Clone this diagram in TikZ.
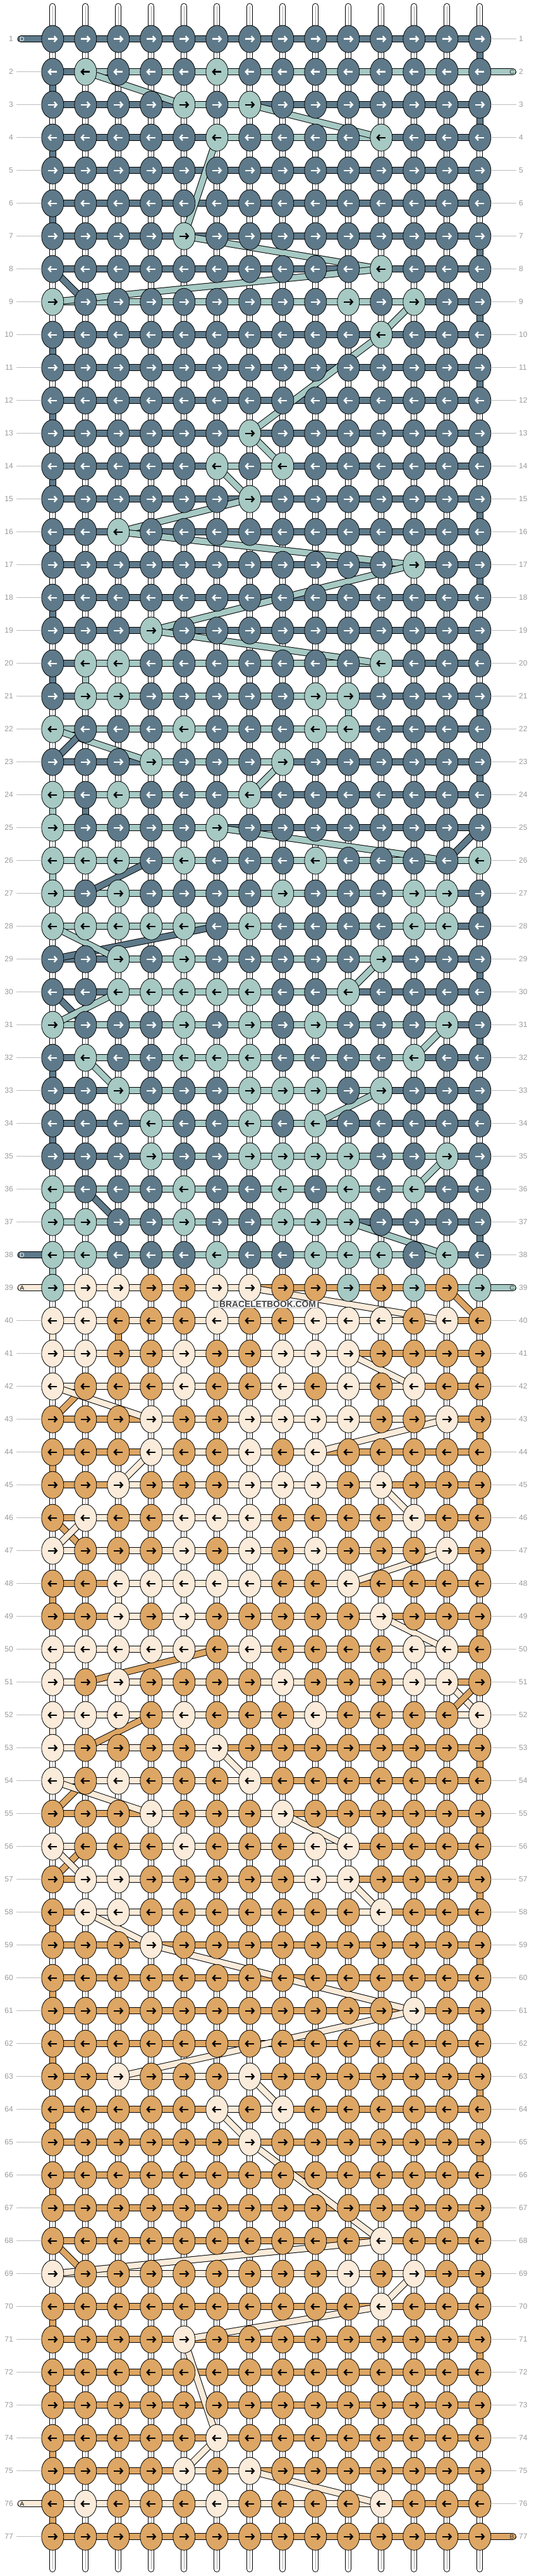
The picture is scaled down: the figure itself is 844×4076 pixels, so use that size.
\documentclass[tikz,border=0pt]{standalone}
\usepackage{fontspec}
\setmainfont{Liberation Sans}
\usepackage{xstring}
\usetikzlibrary{shapes.geometric,arrows.meta}

\definecolor{kD}{HTML}{5E7A8A}
\definecolor{kL}{HTML}{A6C9C4}
\definecolor{kT}{HTML}{DDA664}
\definecolor{kW}{HTML}{FAEBDA}
\definecolor{numgray}{HTML}{9A9A9A}
\definecolor{rulegray}{HTML}{BDBDBD}
\definecolor{markgray}{HTML}{444444}

\tikzset{
  knot/.style={ellipse,draw=black,line width=0.8pt,minimum width=35pt,
    minimum height=43pt,inner sep=0pt},
  bandline/.style={line width=11pt,draw=black},
  bandfill/.style={line width=9pt},
  strand/.style={line width=10pt,line cap=round,draw=black},
  strandin/.style={line width=8pt,line cap=round,draw=white},
  strandmid/.style={line width=0.6pt,draw=black!35},
  knotarrow/.style={line width=2.4pt,-{Straight Barb[length=4pt,width=9pt]}},
  rownum/.style={font=\fontsize{12}{14}\selectfont,text=numgray,inner sep=0pt},
  tailtext/.style={font=\fontsize{10}{12}\selectfont,inner sep=0pt},
}

% row / knots / bars / turn below the row
\def\rowdata{%
1/DDDDDDDDDDDDDD/DDDDDDDDDDDDD/D,
2/DLDDDLDDDDDDDD/DLLLLLLLLLLLL/D,
3/DDDDLDLDDDDDDD/DDDDLLDDDDDDD/D,
4/DDDDDLDDDDLDDD/DDDDDLLLLLDDD/D,
5/DDDDDDDDDDDDDD/DDDDDDDDDDDDD/D,
6/DDDDDDDDDDDDDD/DDDDDDDDDDDDD/D,
7/DDDDLDDDDDDDDD/DDDDDDDDDDDDD/D,
8/DDDDDDDDDDLDDD/DDDDDDDDDDDDD/N,
9/LDDDDDDDDLDLDD/LLLLLLLLLLLDD/D,
10/DDDDDDDDDDLDDD/DDDDDDDDDDDDD/D,
11/DDDDDDDDDDDDDD/DDDDDDDDDDDDD/D,
12/DDDDDDDDDDDDDD/DDDDDDDDDDDDD/D,
13/DDDDDDLDDDDDDD/DDDDDDDDDDDDD/D,
14/DDDDDLDLDDDDDD/DDDDDLLDDDDDD/D,
15/DDDDDDLDDDDDDD/DDDDDDDDDDDDD/D,
16/DDLDDDDDDDDDDD/DDDDDDDDDDDDD/D,
17/DDDDDDDDDDDLDD/DDDDDDDDDDDDD/D,
18/DDDDDDDDDDDDDD/DDDDDDDDDDDDD/D,
19/DDDLDDDDDDDDDD/DDDDDDDDDDDDD/D,
20/DLLDDDDDDDLDDD/DLLLLLLLLLDDD/D,
21/DLLDDDDDLLDDDD/DLLLLLLLLDDDD/D,
22/LDDDLDDDLLDDDD/LLLLLLLLLDDDD/N,
23/DDDLDDDLDDDDDD/DDDLLLLDDDDDD/D,
24/LDLDDDLDDDDDDD/LLLLLLDDDDDDD/L,
25/LDDDDLDDDDDDDD/LLLLLDDDDDDDD/N,
26/LLLDLDDDLDDDDL/LLLLLLLLLLLLL/L,
27/LDLDDDDLDDDLLD/LLLLLLLLLLLLD/D,
28/LLLLLDLDDDDLLD/LLLLLLLLLLLLD/N,
29/DDLDLDDDDDLDDD/DDLLLLLLLLDDD/D,
30/DDLLLLLDDLDDDD/DDLLLLLLLDDDD/N,
31/LDDDLDLDLDDDLD/LLLLLLLLLLLLD/D,
32/DLDDLLLDDDDLDD/DLLLLLLLLLLDD/D,
33/DDLDDDLLLDLDDD/DDLLLLLLLLDDD/D,
34/DDDLDDLDLDDDDD/DDDLLLLLDDDDD/D,
35/DDDLDDLLLLDDLD/DDDLLLLLLLLLD/D,
36/LDDDLDDLDLDLDD/LLLLLLLLLLLDD/L,
37/LLDDLDDLLLDDDD/LLLLLLLLLDDDD/D,
38/LLDDDLDDLLLDLD/LLLLLLLLLLLLD/L,
39/LWWTTWWTTLTLTL/WWWWWWTTTTTTL/N,
40/WWTTTWTTWWWTWT/WWWWWWWWWWWWT/W,
41/WWTTWTTWWWTTTT/WWWWWWWWWTTTT/T,
42/WTTTWTTWTWTWTT/WWWWWWWWWWWTT/N,
43/TTTWTTWWWWTTWT/TTTWWWWWWWWWT/T,
44/TTTWTTWTWTTTTT/TTTWWWWWTTTTT/T,
45/TTWTTTWWWTWTTT/TTWWWWWWWWTTT/T,
46/TWTTWWWTTTTWTT/TWWWWWWWWWWTT/N,
47/WTTTWTWTWTTTWT/WWWWWWWWWWWWT/T,
48/TTWWWWWTTWTTTT/TTWWWWWWWTTTT/T,
49/TTWTWTTTTTWTTT/TTWWWWWWWWTTT/T,
50/WWWWWTWTTTTWWT/WWWWWWWWWWWWT/W,
51/WTWTTTTWTTTWWT/WWWWWWWWWWWWT/N,
52/WWWTWTTTWTTTTW/WWWWWWWWWWWWW/W,
53/WTTTTWTTTTTTTT/WWWWWTTTTTTTT/T,
54/WTWTTTWTTTTTTT/WWWWWWTTTTTTT/N,
55/TTTWTTTWTTTTTT/TTTWWWWTTTTTT/T,
56/WTTTWTTTWWTTTT/WWWWWWWWWTTTT/N,
57/TWWTTTTTWWTTTT/TWWWWWWWWTTTT/T,
58/TWWTTTTTTTWTTT/TWWWWWWWWWTTT/T,
59/TTTWTTTTTTTTTT/TTTTTTTTTTTTT/T,
60/TTTTTTTTTTTTTT/TTTTTTTTTTTTT/T,
61/TTTTTTTTTTTWTT/TTTTTTTTTTTTT/T,
62/TTTTTTTTTTTTTT/TTTTTTTTTTTTT/T,
63/TTWTTTWTTTTTTT/TTWWWWTTTTTTT/T,
64/TTTTTWTWTTTTTT/TTTTTWWTTTTTT/T,
65/TTTTTTWTTTTTTT/TTTTTTTTTTTTT/T,
66/TTTTTTTTTTTTTT/TTTTTTTTTTTTT/T,
67/TTTTTTTTTTTTTT/TTTTTTTTTTTTT/T,
68/TTTTTTTTTTWTTT/TTTTTTTTTTTTT/N,
69/WTTTTTTTTWTWTT/WWWWWWWWWWWTT/T,
70/TTTTTTTTTTWTTT/TTTTTTTTTTTTT/T,
71/TTTTWTTTTTTTTT/TTTTTTTTTTTTT/T,
72/TTTTTTTTTTTTTT/TTTTTTTTTTTTT/T,
73/TTTTTTTTTTTTTT/TTTTTTTTTTTTT/T,
74/TTTTTWTTTTTTTT/TTTTTTTTTTTTT/T,
75/TTTTWTWTTTTTTT/TTTTWWTTTTTTT/T,
76/TWTTTWTTTTWTTT/WWWWWWWWWWTTT/T,
77/TTTTTTTTTTTTTT/TTTTTTTTTTTTT/N}

\begin{document}
\begin{tikzpicture}[x=1pt,y=-1pt]
\useasboundingbox (0,0) rectangle (844,4076);
\fill[white] (0,0) rectangle (844,4076);

%grid of knot places
\foreach \rw in {1,...,77}
  \foreach \cl in {1,...,14}
    \coordinate (p-\rw-\cl) at ({83.3+52*(\cl-1)},{61.7+52*(\rw-1)});

%base strands
\foreach \cl in {1,...,14}{
  \coordinate (st-\cl) at ({83.3+52*(\cl-1)},10);
  \coordinate (sb-\cl) at ({83.3+52*(\cl-1)},4065);
  \draw[strand] (st-\cl) -- (sb-\cl);
  \draw[strandin] (st-\cl) -- (sb-\cl);
  \draw[strandmid] (st-\cl) -- (sb-\cl);
}

%turns at the edges, then the bars of each row
\foreach \rw/\kn/\br/\ev in \rowdata{
  \IfStrEq{\ev}{N}{}{%
    \ifodd\rw\relax\def\ec{14}\else\def\ec{1}\fi
    \pgfmathtruncatemacro\rn{\rw+1}%
    \draw[bandline] (p-\rw-\ec) -- (p-\rn-\ec);
    \draw[bandfill,draw=k\ev] (p-\rw-\ec) -- (p-\rn-\ec);
  }%
  \foreach \cl in {1,...,13}{
    \StrChar{\br}{\cl}[\bc]%
    \pgfmathtruncatemacro\cn{\cl+1}%
    \draw[bandline] (p-\rw-\cl) -- (p-\rw-\cn);
    \draw[bandfill,draw=k\bc] (p-\rw-\cl) -- (p-\rw-\cn);
  }
}

%loose ends
\foreach \rw/\tcol/\txt/\tc in {1/kD/D/white,38/kD/D/white,39/kW/A/black,76/kW/A/black}{
  \pgfmathsetmacro\yy{61.7+52*(\rw-1)}
  \coordinate (tl-\rw) at (33,\yy);
  \draw[bandline,line cap=round] (tl-\rw) -- (p-\rw-1);
  \draw[bandfill,line cap=round,draw=\tcol] (tl-\rw) -- (p-\rw-1);
  \node[tailtext,text=\tc] (tn-\rw) at (35,\yy) {\txt};
}
\foreach \rw/\tcol/\txt in {2/kL/C,39/kL/C,77/kT/B}{
  \pgfmathsetmacro\yy{61.7+52*(\rw-1)}
  \coordinate (tr-\rw) at (811.5,\yy);
  \draw[bandline,line cap=round] (p-\rw-14) -- (tr-\rw);
  \draw[bandfill,line cap=round,draw=\tcol] (p-\rw-14) -- (tr-\rw);
  \node[tailtext,text=black!80] (tm-\rw) at (810,\yy) {\txt};
}

%carried strings
\foreach \ra/\ca/\rb/\cb/\dc in {
  2/2/3/5/L, 3/7/4/11/L, 4/6/7/5/L, 7/5/8/11/L, 8/11/9/1/L, 8/1/9/2/D,
  9/12/10/11/L, 10/11/13/7/L, 13/7/14/8/L, 14/6/15/7/L, 15/7/16/3/L,
  16/3/17/12/L, 17/12/19/4/L, 19/4/20/11/L, 20/2/21/2/L, 21/10/22/10/L,
  22/1/23/4/L, 22/2/23/1/D, 23/8/24/7/L, 24/2/25/2/D, 25/6/26/13/L,
  25/14/26/13/D, 26/4/27/2/D, 28/6/29/1/D, 28/1/29/3/L, 29/11/30/10/L,
  30/1/31/2/D, 30/3/31/1/L, 31/13/32/12/L, 32/2/33/3/L, 33/11/34/9/L,
  35/13/36/12/L, 36/2/37/3/D, 37/10/38/13/L,
  39/7/40/13/W, 39/13/40/14/T, 40/3/41/3/T, 41/10/42/12/W, 42/2/43/1/T,
  42/1/43/4/W, 43/13/44/9/W, 44/4/45/3/W, 45/11/46/12/W, 46/1/47/2/T,
  46/2/47/1/W, 47/13/48/10/W, 48/3/49/3/W, 49/11/50/13/W, 50/6/51/2/T,
  51/13/52/14/W, 51/14/52/13/T, 52/4/53/2/T, 53/6/54/7/W, 54/2/55/1/T,
  54/1/55/4/W, 55/8/56/10/W, 56/2/57/1/T, 56/1/57/2/W, 57/10/58/11/W,
  58/2/59/4/W, 59/4/61/12/W, 61/12/63/3/W, 63/7/64/8/W, 64/6/65/7/W,
  65/7/68/11/W, 68/11/69/1/W, 68/1/69/2/T, 69/12/70/11/W, 70/11/71/5/W,
  71/5/74/6/W, 74/6/75/5/W, 75/7/76/11/W}{
  \draw[bandline] (p-\ra-\ca) -- (p-\rb-\cb);
  \draw[bandfill,draw=k\dc] (p-\ra-\ca) -- (p-\rb-\cb);
}

%knots
\foreach \rw/\kn/\br/\ev in \rowdata{
  \foreach \cl in {1,...,14}{
    \StrChar{\kn}{\cl}[\kc]%
    \node[knot,fill=k\kc] (k-\rw-\cl) at (p-\rw-\cl) {};
    \IfStrEq{\kc}{D}{\def\ac{white}}{\def\ac{black}}%
    \ifodd\rw\relax
      \draw[knotarrow,draw=\ac] ([xshift=-7pt]k-\rw-\cl.center) -- ([xshift=8pt]k-\rw-\cl.center);
    \else
      \draw[knotarrow,draw=\ac] ([xshift=7pt]k-\rw-\cl.center) -- ([xshift=-8pt]k-\rw-\cl.center);
    \fi
  }
}

%row numbers
\foreach \rw in {1,...,77}{
  \pgfmathsetmacro\yy{61.7+52*(\rw-1)}
  \node[rownum,anchor=east] (ln-\rw) at (21,\yy) {\rw};
  \node[rownum,anchor=west] (rn-\rw) at (821,\yy) {\rw};
  \IfSubStr{,1,38,39,76,}{,\rw,}{}{%
    \coordinate (la-\rw) at (26,\yy);
    \coordinate (lb-\rw) at (66,\yy);
    \draw[rulegray,line width=0.8pt] (la-\rw) -- (lb-\rw);
  }%
  \IfSubStr{,2,39,77,}{,\rw,}{}{%
    \coordinate (ra-\rw) at (777,\yy);
    \coordinate (rb-\rw) at (817,\yy);
    \draw[rulegray,line width=0.8pt] (ra-\rw) -- (rb-\rw);
  }%
}

\node[fill=white,draw=black!30,line width=0.5pt,inner xsep=2pt,inner ysep=1pt,
  font=\fontsize{13.8}{14}\selectfont\bfseries,text=markgray] (mark) at (423.5,2063.7) {BRACELETBOOK.COM};
\end{tikzpicture}
\end{document}
